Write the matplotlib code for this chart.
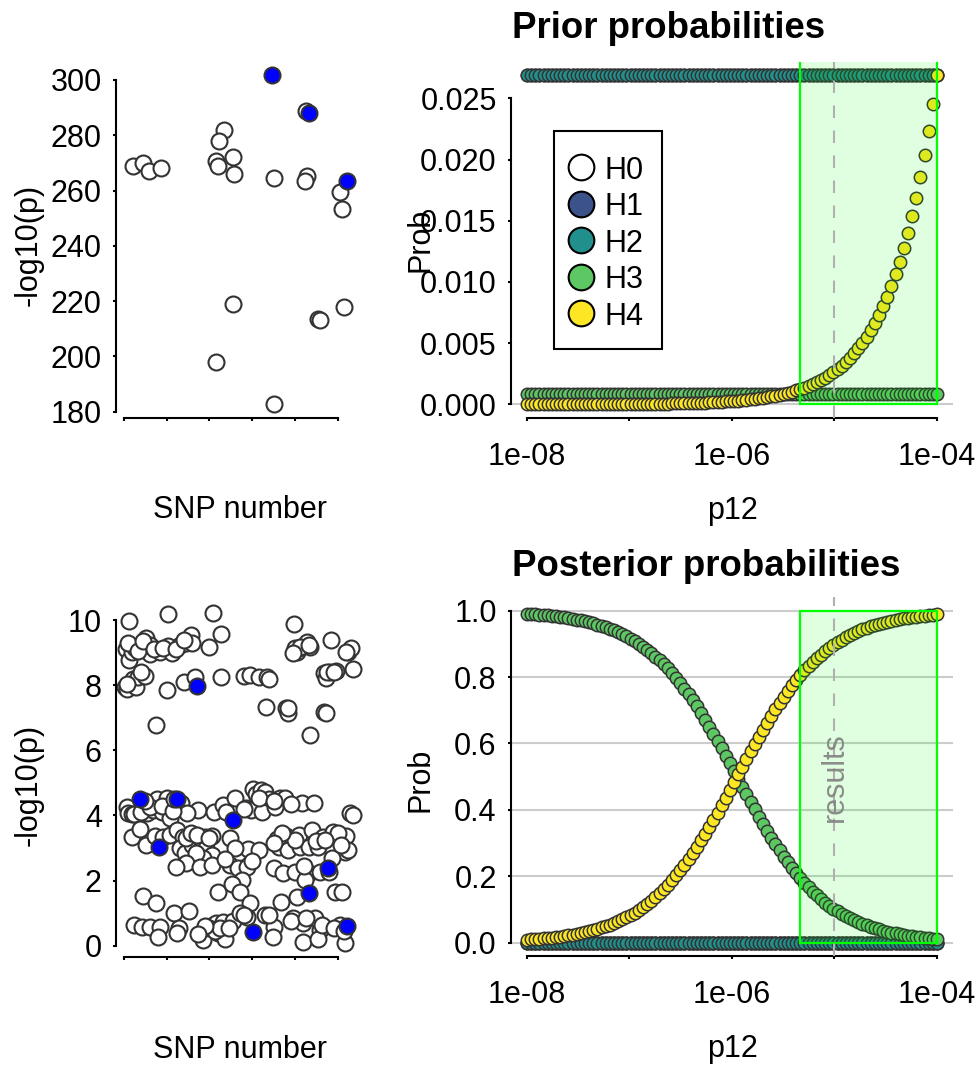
import matplotlib.pyplot as plt
from matplotlib.lines import Line2D
from matplotlib.patches import Rectangle
import numpy as np

plt.rcParams['font.family'] = ['Liberation Sans', 'DejaVu Sans']

W, H = 979, 1065
N_SNPS = 269

# dataset 1: (SNP number, -log10 p); credible-set SNPs drawn in blue
d1_other = [(11, 268.9), (22, 270.1), (29, 267.2), (43, 268.3), (117, 281.7), (111, 277.9),
            (108, 270.8), (110, 268.9), (127, 272.0), (129, 266.1), (127, 218.8), (108, 198.0),
            (176, 264.4), (175, 182.7), (213, 288.9), (214, 265.4), (212, 263.6), (227, 213.5),
            (229, 213.2), (253, 259.4), (255, 253.2), (257, 217.9)]
d1_hits = [(173, 301.7), (217, 287.9), (261, 263.5)]

# dataset 2
d2_other = [(6, 9.98), (51, 10.18), (104, 10.20), (199, 9.87),
            (2, 9.10), (6, 8.77), (9, 9.03), (13, 9.13), (19, 9.23), (26, 9.44), (30, 9.23),
            (31, 8.96), (42, 9.03), (52, 9.20), (56, 9.00), (66, 9.23), (73, 9.28), (78, 9.54),
            (79, 9.28), (100, 9.18), (113, 9.56), (202, 9.03), (205, 9.13), (214, 9.33),
            (218, 9.18), (242, 9.39), (262, 9.03), (266, 9.13), (200, 9.14), (206, 9.18),
            (216, 9.23), (198, 8.99), (260, 9.02), (5, 9.30), (16, 9.05), (22, 9.35), (35, 9.10),
            (46, 9.15), (61, 9.10), (70, 9.40),
            (1, 7.95), (3, 7.87), (10, 8.18), (14, 7.95), (16, 8.24), (25, 8.28), (50, 7.85),
            (70, 8.11), (83, 8.24), (113, 8.26), (140, 8.28), (147, 8.30), (158, 8.26),
            (167, 8.24), (170, 8.19), (234, 8.36), (237, 8.21), (241, 8.41), (248, 8.43),
            (268, 8.50), (238, 8.40), (246, 8.40), (4, 8.05), (20, 8.40),
            (38, 6.78), (166, 7.32), (190, 7.29), (192, 7.13), (234, 7.19), (236, 7.13),
            (218, 6.47), (192, 7.30),
            (3, 4.27), (39, 4.49), (50, 4.52), (67, 4.39), (87, 4.17), (105, 4.11), (116, 4.32),
            (130, 4.52), (151, 4.80), (155, 4.66), (160, 4.78), (165, 4.73), (170, 4.49),
            (183, 4.52), (188, 4.55), (208, 4.39), (222, 4.37), (265, 4.08), (268, 4.01),
            (5, 4.08), (9, 4.04), (16, 4.08), (27, 4.06), (34, 4.17), (45, 4.11), (54, 3.93),
            (74, 4.06), (119, 4.11), (143, 4.22), (149, 4.17), (162, 4.11), (177, 4.27),
            (12, 4.05), (20, 4.10), (31, 4.25), (44, 4.30), (57, 4.15), (24, 4.45), (58, 4.50),
            (140, 4.20), (158, 4.55), (175, 4.45), (196, 4.35),
            (9, 3.35), (19, 3.57), (26, 3.09), (36, 3.37), (46, 3.35), (54, 3.40), (62, 3.55),
            (69, 3.35), (75, 3.35), (81, 3.35), (89, 3.35), (95, 3.35), (103, 3.37),
            (66, 2.99), (71, 2.84), (79, 3.09), (89, 2.94), (96, 2.99), (103, 2.78), (124, 3.30),
            (134, 2.84), (145, 2.96), (179, 3.27), (190, 3.37), (181, 3.04), (192, 2.94),
            (205, 3.40), (220, 3.55), (233, 3.35), (245, 3.50), (260, 3.37), (259, 2.89),
            (206, 3.04), (216, 3.02), (227, 3.04), (244, 2.68), (72, 3.30), (78, 3.45),
            (85, 3.40), (99, 3.30), (92, 2.70), (84, 2.85), (72, 2.55), (158, 2.95), (200, 3.25),
            (225, 3.20), (250, 3.45), (262, 2.95), (185, 3.45), (176, 3.15), (130, 3.00),
            (235, 3.25), (254, 3.10),
            (61, 2.43), (89, 2.43), (103, 2.48), (124, 2.48), (134, 2.37), (144, 2.41),
            (138, 2.02), (175, 2.37), (186, 2.22), (200, 2.27), (217, 2.24), (229, 2.27),
            (212, 2.02), (150, 2.60), (240, 2.25), (211, 2.45), (118, 2.65),
            (22, 1.53), (37, 1.32), (110, 1.66), (126, 1.89), (136, 1.66), (147, 1.32),
            (184, 1.35), (202, 1.50), (247, 1.66), (255, 1.66), (58, 0.99), (76, 1.07),
            (12, 0.63), (21, 0.56), (30, 0.58), (42, 0.58), (40, 0.28), (64, 0.53), (62, 0.38),
            (93, 0.17), (104, 0.63), (108, 0.69), (116, 0.74), (110, 0.38), (118, 0.19),
            (127, 0.76), (136, 1.01), (144, 0.89), (165, 0.94), (175, 0.58), (174, 0.28),
            (198, 0.84), (210, 0.71), (209, 0.12), (223, 0.84), (229, 0.48), (227, 0.19),
            (253, 0.63), (259, 0.07), (100, 0.55), (106, 0.45), (112, 0.55), (123, 0.55),
            (140, 0.95), (170, 0.95), (196, 0.75), (213, 0.85), (232, 0.65), (246, 0.55),
            (257, 0.45), (95, 0.60), (87, 0.35)]
d2_hits = [(85, 7.98), (19, 4.49), (62, 4.49), (41, 3.04), (128, 3.86), (151, 0.43),
           (216, 1.61), (239, 2.37), (261, 0.60)]

# p12 values tested (100 values from 1e-8 to 1e-4) and the chosen one
p12 = np.logspace(-8, -4, 100)
p12_used = 1e-5
p12_ok = (4.6e-6, 1e-4)   # range where H4 passes the rule

prior_h0 = [0.945] * 100
prior_h1 = [0.0269] * 100
prior_h2 = [0.0269] * 100
prior_h3 = [0.00082] * 100
prior_h4 = [
    0.0000027, 0.0000030, 0.0000032, 0.0000036, 0.0000039, 0.0000043, 0.0000047, 0.0000052,
    0.0000057, 0.0000062, 0.0000068, 0.0000075, 0.0000082, 0.0000090, 0.0000099, 0.0000109,
    0.0000119, 0.0000131, 0.0000144, 0.0000158, 0.0000173, 0.0000190, 0.0000208, 0.0000229,
    0.0000251, 0.0000276, 0.0000302, 0.0000332, 0.0000364, 0.0000400, 0.0000439, 0.0000481,
    0.0000528, 0.0000580, 0.0000636, 0.0000698, 0.0000766, 0.0000841, 0.0000923, 0.000101,
    0.000111, 0.000122, 0.000134, 0.000147, 0.000161, 0.000177, 0.000194, 0.000213,
    0.000234, 0.000257, 0.000282, 0.000309, 0.000339, 0.000373, 0.000409, 0.000449,
    0.000493, 0.000540, 0.000593, 0.000651, 0.000714, 0.000784, 0.000861, 0.000944,
    0.001036, 0.001138, 0.001249, 0.001370, 0.001504, 0.001651, 0.001811, 0.001988,
    0.002182, 0.002395, 0.002628, 0.002884, 0.003166, 0.003474, 0.003813, 0.004185,
    0.004593, 0.005041, 0.005532, 0.006072, 0.006663, 0.007313, 0.008026, 0.008809,
    0.009668, 0.010610, 0.011644, 0.012780, 0.014026, 0.015393, 0.016894, 0.018541,
    0.020349, 0.022333, 0.024510, 0.026900]

post_h0 = [0.0] * 100
post_h1 = [0.0] * 100
post_h2 = [0.0] * 100
post_h3 = [
    0.991, 0.990, 0.989, 0.988, 0.987, 0.986, 0.985, 0.983, 0.982, 0.980,
    0.978, 0.976, 0.973, 0.971, 0.968, 0.965, 0.962, 0.958, 0.954, 0.950,
    0.946, 0.941, 0.935, 0.929, 0.923, 0.916, 0.909, 0.901, 0.892, 0.883,
    0.873, 0.862, 0.851, 0.839, 0.826, 0.812, 0.797, 0.782, 0.765, 0.748,
    0.730, 0.712, 0.692, 0.672, 0.651, 0.630, 0.608, 0.586, 0.563, 0.540,
    0.517, 0.493, 0.470, 0.447, 0.424, 0.402, 0.380, 0.358, 0.337, 0.316,
    0.297, 0.278, 0.259, 0.242, 0.225, 0.209, 0.194, 0.180, 0.167, 0.154,
    0.143, 0.132, 0.121, 0.112, 0.103, 0.095, 0.087, 0.080, 0.073, 0.067,
    0.062, 0.056, 0.052, 0.047, 0.043, 0.040, 0.036, 0.033, 0.030, 0.028,
    0.025, 0.023, 0.021, 0.019, 0.018, 0.016, 0.015, 0.013, 0.012, 0.011]
post_h4 = [
    0.009, 0.010, 0.011, 0.012, 0.013, 0.014, 0.015, 0.017, 0.018, 0.020,
    0.022, 0.024, 0.027, 0.029, 0.032, 0.035, 0.038, 0.042, 0.046, 0.050,
    0.054, 0.059, 0.065, 0.071, 0.077, 0.084, 0.091, 0.099, 0.108, 0.117,
    0.127, 0.138, 0.149, 0.161, 0.174, 0.188, 0.203, 0.218, 0.235, 0.252,
    0.270, 0.288, 0.308, 0.328, 0.349, 0.370, 0.392, 0.414, 0.437, 0.460,
    0.483, 0.507, 0.530, 0.553, 0.576, 0.598, 0.620, 0.642, 0.663, 0.684,
    0.703, 0.722, 0.741, 0.758, 0.775, 0.791, 0.806, 0.820, 0.833, 0.846,
    0.857, 0.868, 0.879, 0.888, 0.897, 0.905, 0.913, 0.920, 0.927, 0.933,
    0.938, 0.944, 0.948, 0.953, 0.957, 0.960, 0.964, 0.967, 0.970, 0.972,
    0.975, 0.977, 0.979, 0.981, 0.982, 0.984, 0.985, 0.987, 0.988, 0.989]

hyp_labels = ['H0', 'H1', 'H2', 'H3', 'H4']
hyp_colors = ['#FFFFFF', '#3B528B', '#21908C', '#5DC863', '#FDE725']
EDGE = '#333333'
FS = 22


def rect(x0, y0, x1, y1):
    # pixel box -> figure fraction [left, bottom, width, height]
    return [x0 / W, 1 - y1 / H, (x1 - x0) / W, (y1 - y0) / H]


def fpos(x, y):
    return x / W, 1 - y / H


def r_range(lo, hi):
    d = (hi - lo) * 0.04
    return lo - d, hi + d


def r_style(ax, xb, yb):
    for s in ('top', 'right'):
        ax.spines[s].set_visible(False)
    ax.spines['left'].set_bounds(*yb)
    ax.spines['bottom'].set_bounds(*xb)
    for s in ('left', 'bottom'):
        ax.spines[s].set_linewidth(1.5)
    ax.tick_params(length=2.5, width=1.5, labelsize=FS)
    ax.tick_params(axis='y', pad=7.5)
    ax.tick_params(axis='x', pad=15)
    ax.minorticks_off()


fig = plt.figure(figsize=(W / 100, H / 100), dpi=100)

# ---- left: -log10(p) by SNP ----
panels = [(d1_other, d1_hits, (62, 417.5), np.arange(180, 301, 20), 245),
          (d2_other, d2_hits, (600.3, 956.6), np.arange(0, 11, 2), 785)]
for other, hits, (top, bot), yt, ymid in panels:
    ax = fig.add_axes(rect(115.7, top, 363, bot))
    ox, oy = zip(*other)
    hx, hy = zip(*hits)
    ax.scatter(ox, oy, s=132, facecolor='white', edgecolor=EDGE, linewidth=1.5, zorder=2)
    ax.scatter(hx, hy, s=132, facecolor='#0000FF', edgecolor=EDGE, linewidth=1.5, zorder=3)
    allv = list(oy) + list(hy)
    ax.set_xlim(*r_range(1, N_SNPS))
    ax.set_ylim(*r_range(min(allv), max(allv)))
    ax.set_xticks(np.arange(0, 251, 50))
    ax.set_xticklabels([])
    ax.set_yticks(yt)
    r_style(ax, (0, 250), (yt[0], yt[-1]))
    fig.text(*fpos(240, bot + 93), 'SNP number', fontsize=FS, ha='center', va='center')
    fig.text(*fpos(29, ymid), '-log10(p)', fontsize=FS, rotation=90,
             ha='center', va='center')

# ---- right: prior / posterior probabilities against p12 ----
prior = [prior_h0, prior_h1, prior_h2, prior_h3, prior_h4]
post = [post_h0, post_h1, post_h2, post_h3, post_h4]
right = [('Prior probabilities', prior, (61.9, 417.5), 0.0269, np.arange(0, 0.0251, 0.005),
          '{:.3f}', 28, 240),
         ('Posterior probabilities', post, (597.4, 956.0), 1.0, np.arange(0, 1.01, 0.2),
          '{:.1f}', 566, 780)]
for title, series, (top, bot), ymax, yt, fmt, ty, ymid in right:
    ax = fig.add_axes(rect(510.6, top, 953.4, bot))
    ax.set_xscale('log')
    ax.set_xlim(10 ** -8.16, 10 ** -3.84)
    ax.set_ylim(*r_range(0, ymax))
    for g in np.arange(0, 1.01, 0.2):
        ax.axhline(g, color='#CCCCCC', lw=1.5, zorder=0)
    for vals, col in zip(series, hyp_colors):
        ax.scatter(p12, vals, s=80, facecolor=col, edgecolor=EDGE, linewidth=1.1, zorder=2)
    # shaded p12 range drawn over the points, edges clipped by the axes
    ax.add_patch(Rectangle((p12_ok[0], 0), p12_ok[1] - p12_ok[0], 1.0,
                           facecolor=(0, 1, 0, 0.12), edgecolor='#00FF00', lw=1.6, zorder=3))
    ax.axvline(p12_used, color='#B0B0B0', lw=1.5, ls=(0, (6, 6)), zorder=4)
    if ymax == 1.0:
        ax.text(p12_used, 0.5, 'results', rotation=90, ha='center', va='center',
                fontsize=FS, color='#808080', alpha=0.9, zorder=5)
    ax.set_xticks([1e-8, 1e-7, 1e-6, 1e-5, 1e-4])
    ax.set_xticklabels(['1e-08', '', '1e-06', '', '1e-04'])
    ax.set_yticks(yt)
    ax.set_yticklabels([fmt.format(v) for v in yt])
    r_style(ax, (1e-8, 1e-4), (yt[0], yt[-1]))
    fig.text(*fpos(512, ty), title, fontsize=26.4, fontweight='bold', ha='left', va='center')
    fig.text(*fpos(732, bot + 93), 'p12', fontsize=FS, ha='center', va='center')
    fig.text(*fpos(421, ymid), 'Prob', fontsize=FS, rotation=90, ha='center', va='center')

# legend box for the hypotheses
x0, y0 = fpos(554, 349.3)
x1, y1 = fpos(662, 130.5)
fig.add_artist(Rectangle((x0, y0), x1 - x0, y1 - y0, transform=fig.transFigure,
                         facecolor='white', edgecolor='black', lw=1.5, zorder=6))
for i, (lab, col) in enumerate(zip(hyp_labels, hyp_colors)):
    mx, my = fpos(581, 167.3 + i * 36.5)
    fig.add_artist(Line2D([mx], [my], transform=fig.transFigure, ls='none', marker='o',
                          ms=18.5, mfc=col, mec='black', mew=1.5, zorder=7))
    fig.text(*fpos(605, 167.3 + i * 36.5), lab, fontsize=FS, ha='left', va='center_baseline',
             zorder=7)

fig.savefig('out.png', dpi=100)
